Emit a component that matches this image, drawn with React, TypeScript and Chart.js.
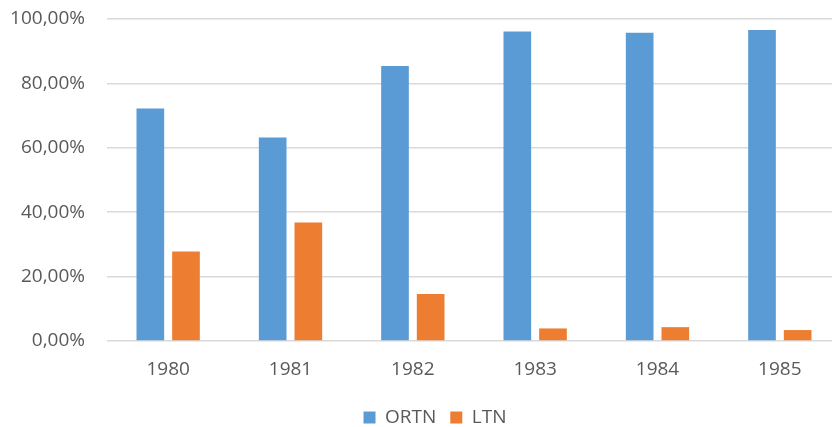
import React, { useEffect, useRef } from "react";
import { Chart, registerables } from "chart.js";

Chart.register(...registerables);

const years = ["1980", "1981", "1982", "1983", "1984", "1985"];
const ortn = [72.2, 63.2, 85.4, 96.1, 95.7, 96.6];
const ltn = [27.8, 36.8, 14.6, 3.9, 4.3, 3.4];
const yTicks = [0, 20, 40, 60, 80, 100];

const TEXT = "#595959";
const GRID = "#d9d9d9";
const FONT = { family: "'Open Sans', 'Liberation Sans', sans-serif", size: 19 };

const W = 870;
const H = 437;

const fmtPct = (v: number) => v.toFixed(2).replace(".", ",") + "%";

export default function App() {
  const canvasRef = useRef<HTMLCanvasElement | null>(null);

  useEffect(() => {
    document.body.style.overflow = "hidden";
    const ctx = canvasRef.current;
    if (!ctx) return;
    const chart = new Chart(ctx, {
      type: "bar",
      data: {
        labels: years,
        datasets: [
          { label: "ORTN", data: ortn, backgroundColor: "#5b9bd5", borderWidth: 0 },
          { label: "LTN", data: ltn, backgroundColor: "#ed7d31", borderWidth: 0 },
        ],
      },
      options: {
        animation: false,
        responsive: false,
        maintainAspectRatio: false,
        layout: { padding: { top: 19, left: 0, right: 0, bottom: 0 } },
        datasets: {
          bar: { categoryPercentage: 0.583, barPercentage: 0.776 },
        },
        plugins: {
          tooltip: { enabled: false },
          legend: {
            position: "bottom",
            labels: {
              color: TEXT,
              font: FONT,
              boxWidth: 12,
              boxHeight: 12,
              padding: 14,
            },
          },
        },
        scales: {
          x: {
            grid: { display: false, drawTicks: false },
            border: { display: false },
            ticks: { color: TEXT, font: FONT, padding: 17 },
            afterFit: (s: any) => {
              s.height = 53;
            },
          },
          y: {
            min: 0,
            max: 100,
            afterBuildTicks: (s: any) => {
              s.ticks = yTicks.map((v) => ({ value: v }));
            },
            // invisible tick marks give the gap between labels and plot
            grid: { color: GRID, lineWidth: 1.5, drawTicks: true, tickLength: 22, tickColor: "rgba(0,0,0,0)" },
            border: { display: false },
            ticks: {
              color: TEXT,
              font: FONT,
              padding: 0,
              callback: (v: any) => fmtPct(Number(v)),
            },
            afterFit: (s: any) => {
              s.width = 107;
            },
          },
          // empty right-hand margin axis, keeps the legend centred on the full canvas
          yRight: {
            position: "right",
            display: true,
            grid: { display: false, drawTicks: false },
            border: { display: false },
            ticks: { display: false },
            afterFit: (s: any) => {
              s.width = 29;
            },
          },
        },
      },
    });
    return () => chart.destroy();
  }, []);

  return (
    <div style={{ position: "fixed", left: 0, top: 0, width: W, height: H, background: "#fff" }}>
      <canvas ref={canvasRef} width={W} height={H} style={{ width: W, height: H, display: "block" }} />
    </div>
  );
}
